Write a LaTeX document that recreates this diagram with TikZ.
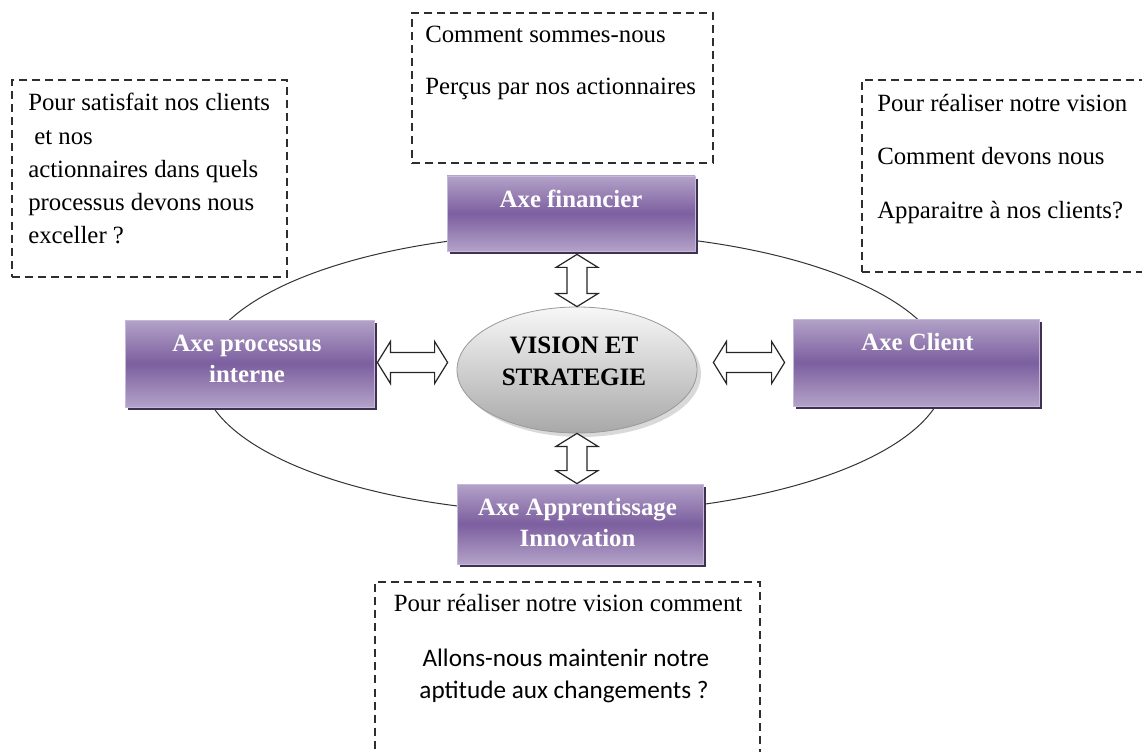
\documentclass[tikz,border=0pt]{standalone}
\usepackage{fontspec}
\setmainfont{Liberation Serif}
\newfontfamily\carlito{Carlito}
\usetikzlibrary{calc,shapes.geometric,shadows}

\definecolor{axelight}{HTML}{B3A2C8}
\definecolor{axedark}{HTML}{7C5F9F}
\definecolor{axeedge}{HTML}{C6B8DA}
\definecolor{axeshadow}{HTML}{3F3151}
\definecolor{dashgray}{HTML}{2E2E2E}

% lengths given in drawing units (1 unit = 0.75pt)
\newcommand\pxl[1]{#1*0.75pt}

% hollow double arrows: vertical (top to bottom) and horizontal (left to right)
\newcommand\vdoublearrow[2]{%
  \draw[hollow] (#1) -- ($(#1)+(21,13)$) -- ($(#1)+(10,13)$) -- ($(#2)+(10,-13)$)
    -- ($(#2)+(21,-13)$) -- (#2) -- ($(#2)+(-21,-13)$) -- ($(#2)+(-10,-13)$)
    -- ($(#1)+(-10,13)$) -- ($(#1)+(-21,13)$) -- cycle;}
\newcommand\hdoublearrow[2]{%
  \draw[hollow] (#1) -- ($(#1)+(13,-21)$) -- ($(#1)+(13,-10)$) -- ($(#2)+(-13,-10)$)
    -- ($(#2)+(-13,-21)$) -- (#2) -- ($(#2)+(-13,21)$) -- ($(#2)+(-13,10)$)
    -- ($(#1)+(13,10)$) -- ($(#1)+(13,21)$) -- cycle;}

\tikzset{
  orbitline/.style={ellipse, draw=black!80, line width=0.75pt, inner sep=0pt},
  qbox/.style={rectangle, draw=dashgray, line width=1.6pt,
    dash pattern=on 6pt off 3.8pt, inner sep=0pt},
  qtext/.style={inner sep=0pt, font=\fontsize{18.6}{22}\selectfont, text=black},
  qsans/.style={inner sep=0pt, font=\carlito\fontsize{18.9}{22}\selectfont, text=black},
  axebox/.style={rectangle, inner sep=0pt, draw=axeedge, line width=0.6pt,
    top color=axelight, bottom color=axelight, middle color=axedark,
    drop shadow={shadow xshift=2.4pt, shadow yshift=-2.4pt, fill=axeshadow, opacity=1}},
  axelabel/.style={inner sep=0pt, font=\fontsize{18.6}{22}\selectfont\bfseries, text=white},
  visionshape/.style={ellipse, inner sep=0pt, draw=black!40, line width=0.6pt,
    top color=white!97!black, bottom color=white!66!black,
    drop shadow={shadow xshift=3pt, shadow yshift=-3pt, fill=black, opacity=0.15}},
  visionlabel/.style={inner sep=0pt, font=\fontsize{18.8}{22}\selectfont\bfseries, text=black},
  hollow/.style={draw=black!85, fill=white, line width=0.9pt, line join=miter},
}

\begin{document}
\begin{tikzpicture}[x=0.75pt, y=-0.75pt]
\useasboundingbox (0,0) rectangle (1142,752);
\clip (0,0) rectangle (1142,752);
\fill[white] (0,0) rectangle (1142,752);

% large orbit joining the four axes
\node[orbitline, minimum width=\pxl{744}, minimum height=\pxl{280}] (orbit) at (574,373) {};

% question boxes
\node[qbox, minimum width=\pxl{275}, minimum height=\pxl{197}] (qleft) at (149.5,178.5) {};
\node[qbox, minimum width=\pxl{301}, minimum height=\pxl{150}] (qtop) at (562.5,88) {};
\node[qbox, minimum width=\pxl{308}, minimum height=\pxl{192}] (qright) at (1016,176) {};
\node[qbox, minimum width=\pxl{385}, minimum height=\pxl{208}] (qbottom) at (567.5,686) {};

\node[qtext, anchor=base west] (ql1) at (28,111) {Pour satisfait nos clients};
\node[qtext, anchor=base west] (ql2) at (34,144.5) {et nos};
\node[qtext, anchor=base west] (ql3) at (28,178) {actionnaires dans quels};
\node[qtext, anchor=base west] (ql4) at (28,211) {processus devons nous};
\node[qtext, anchor=base west] (ql5) at (28,244) {exceller ?};

\node[qtext, anchor=base west] (qt1) at (425,42.7) {Comment sommes-nous};
\node[qtext, anchor=base west] (qt2) at (425,95) {Perçus par nos actionnaires};

\node[qtext, anchor=base west] (qr1) at (877,111.7) {Pour réaliser notre vision};
\node[qtext, anchor=base west] (qr2) at (877,165) {Comment devons nous};
\node[qtext, anchor=base west] (qr3) at (877,218.3) {Apparaitre à nos clients?};

\node[qtext, anchor=base] (qb1) at (568,611.7) {Pour réaliser notre vision comment};
\node[qsans, anchor=base] (qb2) at (566,666.7) {Allons-nous maintenir notre};
\node[qsans, anchor=base] (qb3) at (564,698.3) {aptitude aux changements ?};

% the four axes
\node[axebox, minimum width=\pxl{248}, minimum height=\pxl{75}] (fin) at (571,213.5) {};
\node[axebox, minimum width=\pxl{249}, minimum height=\pxl{87}] (proc) at (249.5,363.5) {};
\node[axebox, minimum width=\pxl{246}, minimum height=\pxl{87}] (cli) at (916,362.5) {};
\node[axebox, minimum width=\pxl{246}, minimum height=\pxl{80}] (appr) at (580,524) {};

\node[axelabel, anchor=base] (finlbl) at (571,207.3) {Axe financier};
\node[axelabel, anchor=base] (proclbl1) at (247,351.7) {Axe processus};
\node[axelabel, anchor=base] (proclbl2) at (247,382.7) {interne};
\node[axelabel, anchor=base] (clilbl) at (917.5,350) {Axe Client};
\node[axelabel, anchor=base] (apprlbl1) at (577.5,515) {Axe Apprentissage};
\node[axelabel, anchor=base] (apprlbl2) at (577.5,546.7) {Innovation};

% centre
\node[visionshape, minimum width=\pxl{240}, minimum height=\pxl{126}] (vis) at (577,370) {};
\node[visionlabel, anchor=base] (vislbl1) at (574,353) {VISION ET};
\node[visionlabel, anchor=base] (vislbl2) at (574,385) {STRATEGIE};

% double arrows between the centre and each axis
\coordinate (upA) at ($(vis.north |- fin.south)+(0,3)$);
\coordinate (upB) at (vis.north);
\coordinate (dnA) at (vis.south);
\coordinate (dnB) at (vis.south |- appr.north);
\coordinate (lfA) at ($(proc.east)+(3,-1)$);
\coordinate (lfB) at ($(lfA -| vis.west)+(-9,0)$);
\coordinate (rtB) at ($(cli.west)+(-8,0)$);
\coordinate (rtA) at ($(rtB -| vis.east)+(16,0)$);

\vdoublearrow{upA}{upB}
\vdoublearrow{dnA}{dnB}
\hdoublearrow{lfA}{lfB}
\hdoublearrow{rtA}{rtB}
\end{tikzpicture}
\end{document}
